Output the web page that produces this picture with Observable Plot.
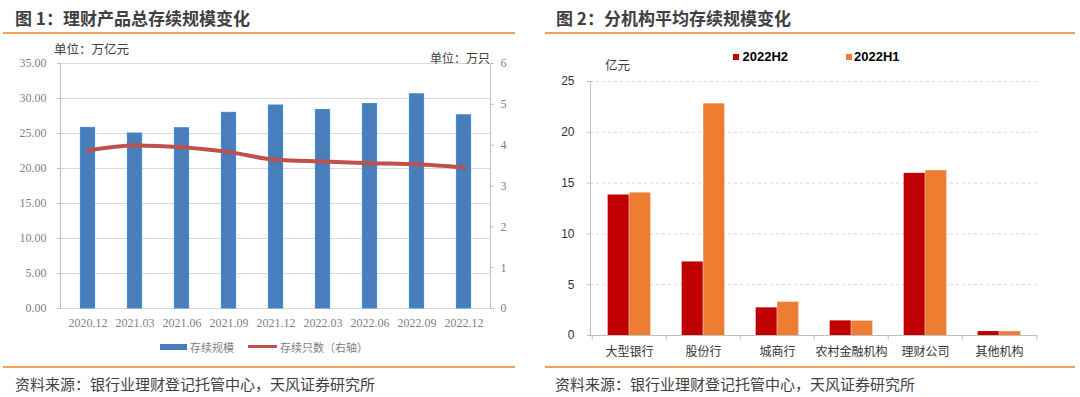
<!DOCTYPE html>
<html><head><meta charset="utf-8">
<script src="https://cdn.jsdelivr.net/npm/d3@7"></script>
<script src="https://cdn.jsdelivr.net/npm/@observablehq/plot@0.6"></script>
<style>
body{margin:0;background:#fff;}
#root{position:relative;width:1080px;height:397px;overflow:hidden;font-family:"Noto Sans CJK SC",sans-serif;background:#fff;}
.abs{position:absolute;white-space:nowrap;}
.title{font-size:17px;font-weight:bold;color:#404040;top:7px;line-height:21px;}
.rule{position:absolute;height:2px;background:#f5a05a;}
.src{font-size:15px;color:#404040;top:375px;line-height:18px;}
.chart{position:absolute;}
</style></head><body>
<div id="root">
  <div class="abs title" style="left:15px;">图 1：理财产品总存续规模变化</div>
  <div class="abs title" style="left:556px;">图 2：分机构平均存续规模变化</div>
  <div class="rule" style="left:3px;width:512px;top:31.5px;"></div>
  <div class="rule" style="left:545px;width:530px;top:31.5px;"></div>
  <div class="rule" style="left:3px;width:512px;top:365.5px;"></div>
  <div class="rule" style="left:545px;width:530px;top:365.5px;"></div>
  <div class="abs src" style="left:15px;">资料来源：银行业理财登记托管中心，天风证券研究所</div>
  <div class="abs src" style="left:555px;">资料来源：银行业理财登记托管中心，天风证券研究所</div>

  <div id="c1" class="chart" style="left:0;top:40px;"></div>
  <div id="c2" class="chart" style="left:540px;top:70px;"></div>

  <div class="abs" style="left:54px;top:41px;font-size:12.5px;line-height:16px;color:#404040;">单位：万亿元</div>
  <div class="abs" style="left:430px;top:50px;font-size:12px;line-height:16px;color:#404040;">单位：万只</div>

  <div class="abs" style="left:160px;top:343.5px;width:27px;height:6px;background:#4a7ebb;"></div>
  <div class="abs" style="left:190px;top:338.5px;font-size:11px;line-height:16px;color:#7f7f7f;">存续规模</div>
  <div class="abs" style="left:248px;top:345px;width:29px;height:3px;background:#c0504d;"></div>
  <div class="abs" style="left:280px;top:338.5px;font-size:11px;line-height:16px;color:#7f7f7f;">存续只数（右轴）</div>

  <div class="abs" style="left:605px;top:57px;font-size:12.5px;line-height:16px;color:#404040;">亿元</div>
  <div class="abs" style="left:733px;top:53.5px;width:6px;height:6px;background:#c00000;"></div>
  <div class="abs" style="left:742.5px;top:48px;font-family:'Liberation Sans',Arial,sans-serif;font-weight:bold;font-size:13px;line-height:17px;color:#000;">2022H2</div>
  <div class="abs" style="left:845.5px;top:53.5px;width:6px;height:6px;background:#ed7d31;"></div>
  <div class="abs" style="left:854px;top:48px;font-family:'Liberation Sans',Arial,sans-serif;font-weight:bold;font-size:13px;line-height:17px;color:#000;">2022H1</div>
</div>
<script>
// ---- Chart 1 data ----
const periods = ["2020.12","2021.03","2021.06","2021.09","2021.12","2022.03","2022.06","2022.09","2022.12"];
const totalScale = [25.8, 25.0, 25.75, 27.95, 29.0, 28.35, 29.2, 30.6, 27.6];   // 万亿元
const productCount = [3.87, 3.99, 3.95, 3.83, 3.64, 3.60, 3.56, 3.53, 3.45];    // 万只 (right axis)
const leftTicks = [0, 5, 10, 15, 20, 25, 30, 35];
const rightTicks = [0, 1, 2, 3, 4, 5, 6];

// ---- Chart 2 data ----
const institutions = ["大型银行","股份行","城商行","农村金融机构","理财公司","其他机构"];
const avgH2 = [13.83, 7.24, 2.72, 1.44, 15.96, 0.39];
const avgH1 = [14.03, 22.8, 3.28, 1.42, 16.22, 0.38];
const seriesNames = ["2022H2", "2022H1"];
const seriesColors = ["#c00000", "#ed7d31"];
const rightYTicks = [0, 5, 10, 15, 20, 25];

// ---- Chart 1 ----
const k = 35 / 6;
const d1 = periods.map((p, i) => ({p, v: totalScale[i], c: productCount[i]}));
const w1 = 540, ml1 = 60, mr1 = 50;
const step1 = (w1 - ml1 - mr1) / periods.length;
const barInset1 = (step1 - 15) / 2;
const c1 = Plot.plot({
  width: w1, height: 300, marginLeft: ml1, marginRight: mr1, marginTop: 23, marginBottom: 32,
  style: {fontFamily: '"Liberation Serif","Noto Sans CJK SC",serif', fontSize: "12px", color: "#7f7f7f", background: "transparent", overflow: "visible"},
  x: {domain: periods, padding: 0},
  y: {domain: [0, 35]},
  marks: [
    Plot.ruleY(leftTicks, {stroke: "#d9d9d9"}),
    Plot.frame({anchor: "left", stroke: "#bfbfbf"}),
    Plot.frame({anchor: "right", stroke: "#bfbfbf"}),
    Plot.axisY(leftTicks, {anchor: "left", tickSize: 3, tickPadding: 11, stroke: "#bfbfbf", tickFormat: d => d.toFixed(2), label: null}),
    Plot.axisY(rightTicks.map(d => d * k), {anchor: "right", tickSize: 3, tickPadding: 7, stroke: "#bfbfbf", tickFormat: d => String(Math.round(d / k)), label: null}),
    Plot.axisX({tickSize: 0, tickPadding: 10, label: null}),
    Plot.barY(d1, {x: "p", y: "v", fill: "#4a7ebb", stroke: "#3a8ad8", strokeWidth: 1, insetLeft: barInset1, insetRight: barInset1}),
    Plot.line(d1, {x: "p", y: d => d.c * k, stroke: "#c0504d", strokeWidth: 4, curve: "monotone-x"})
  ]
});
document.getElementById("c1").appendChild(c1);

// ---- Chart 2 ----
const d2 = institutions.flatMap((inst, i) => [
  {inst, s: seriesNames[0], v: avgH2[i]},
  {inst, s: seriesNames[1], v: avgH1[i]}
]);
const w2 = 540, ml2 = 50, mr2 = 43;
const step2 = (w2 - ml2 - mr2) / institutions.length;
const barW2 = step2 * 0.29;
const side2 = (step2 - 2 * barW2) / 2;
const c2 = Plot.plot({
  width: w2, height: 295, marginLeft: ml2, marginRight: mr2, marginTop: 11, marginBottom: 30,
  style: {fontFamily: '"Liberation Sans","Noto Sans CJK SC",sans-serif', fontSize: "12px", color: "#333", background: "transparent", overflow: "visible"},
  x: {domain: institutions, padding: 0},
  y: {domain: [0, 25]},
  marks: [
    Plot.ruleY(rightYTicks.filter(d => d > 0), {stroke: "#d9d9d9", strokeDasharray: "3,3"}),
    Plot.ruleY([0], {stroke: "#bfbfbf"}),
    Plot.frame({anchor: "left", stroke: "#bfbfbf"}),
    Plot.ruleX(institutions, {x: d => d, dx: -step2 / 2, y1: 0, y2: -0.45, stroke: "#bfbfbf"}),
    Plot.ruleX(institutions.slice(-1), {x: d => d, dx: step2 / 2, y1: 0, y2: -0.45, stroke: "#bfbfbf"}),
    Plot.axisY(rightYTicks, {anchor: "left", tickSize: 3, tickPadding: 13, stroke: "#bfbfbf", label: null}),
    Plot.axisX({tickSize: 0, tickPadding: 12, label: null}),
    Plot.barY(d2.filter(d => d.s === seriesNames[0]), {x: "inst", y: "v", fill: seriesColors[0], insetLeft: side2, insetRight: side2 + barW2}),
    Plot.barY(d2.filter(d => d.s === seriesNames[1]), {x: "inst", y: "v", fill: seriesColors[1], insetLeft: side2 + barW2, insetRight: side2})
  ]
});
document.getElementById("c2").appendChild(c2);
</script>
</body></html>
